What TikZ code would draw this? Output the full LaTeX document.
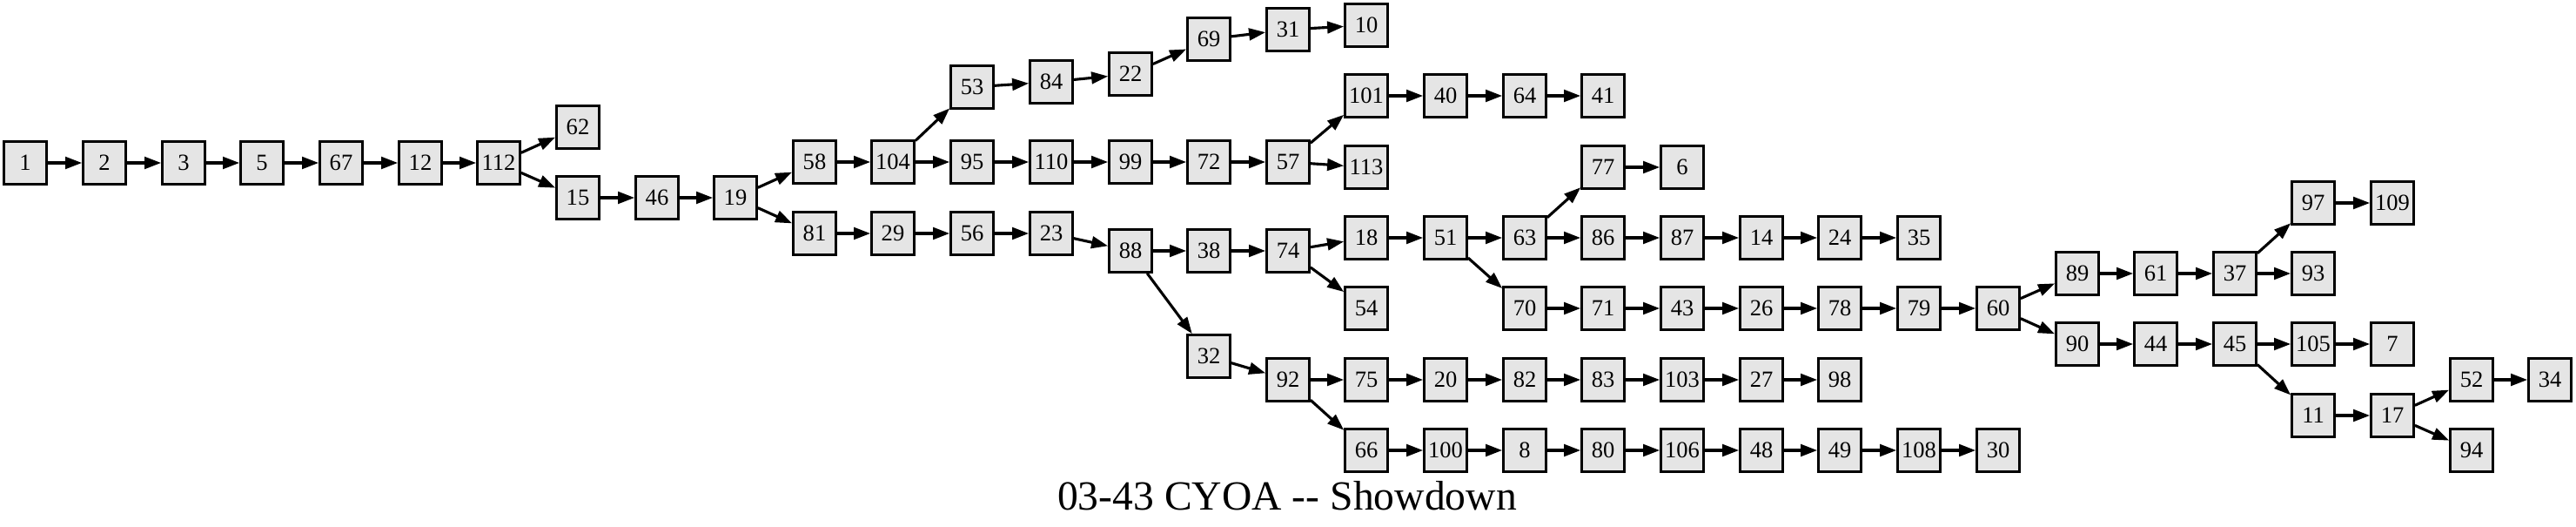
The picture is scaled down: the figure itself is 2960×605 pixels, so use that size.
\documentclass[tikz,border=0pt]{standalone}
\usepackage{fontspec}
\setmainfont{Liberation Serif}
\usetikzlibrary{arrows.meta,graphs}
\definecolor{pagefill}{HTML}{E5E5E5}
\tikzset{
    >={Triangle[length=14pt,width=10pt]},
    page/.style={draw, line width=2pt, fill=pagefill, rectangle,
        minimum size=36pt, inner sep=0pt,
        font=\fontsize{19.5pt}{20pt}\selectfont},
}

\begin{document}
\begin{tikzpicture}[x=0.735pt, y=-0.735pt]
    \useasboundingbox (0,0) rectangle (2960,605);

    % pages, at pixel positions of the layout
    \foreach \n/\x/\y in {
        1/29/187, 2/120/187, 3/211/187, 5/301/187, 67/392/187, 12/483/187, 112/573/187,
        62/664/146, 15/664/227, 46/755/227, 19/845/227, 58/936/186, 81/936/268,
        104/1026/186, 53/1117/100, 84/1208/94, 22/1299/85, 69/1389/45, 31/1480/34, 10/1570/29,
        95/1117/186, 110/1208/186, 99/1299/186, 72/1389/186, 57/1480/186,
        101/1570/110, 40/1661/110, 64/1752/110, 41/1842/110, 113/1570/192,
        29/1026/268, 56/1117/268, 23/1208/268, 88/1299/288, 38/1389/288, 74/1480/288,
        18/1570/273, 51/1661/273, 63/1752/273, 86/1842/273, 87/1933/273,
        14/2024/273, 24/2114/273, 35/2205/273, 77/1842/192, 6/1933/192,
        54/1570/354, 70/1752/354, 71/1842/354, 43/1933/354, 26/2024/354,
        78/2114/354, 79/2205/354, 60/2296/354,
        89/2387/314, 61/2477/314, 37/2568/314, 93/2658/314, 97/2658/233, 109/2749/233,
        90/2387/395, 44/2477/395, 45/2568/395, 105/2658/395, 7/2749/395,
        11/2658/477, 17/2749/477, 52/2840/436, 34/2930/436, 94/2840/517,
        32/1389/409, 92/1480/436, 75/1570/436, 20/1661/436, 82/1752/436,
        83/1842/436, 103/1933/436, 27/2024/436, 98/2114/436,
        66/1570/517, 100/1661/517, 8/1752/517, 80/1842/517, 106/1933/517,
        48/2024/517, 49/2114/517, 108/2205/517, 30/2296/517}
        \node[page] (p\n) at (\x,\y) {\n};

    \graph[use existing nodes, edges={line width=2.3pt}] {
        p1 -> p2 -> p3 -> p5 -> p67 -> p12 -> p112 -> p15 -> p46 -> p19 -> p58 -> p104
            -> p95 -> p110 -> p99 -> p72 -> p57 -> p101 -> p40 -> p64 -> p41;
        p112 -> p62;
        p104 -> p53 -> p84 -> p22 -> p69 -> p31 -> p10;
        p57 -> p113;
        p19 -> p81 -> p29 -> p56 -> p23 -> p88 -> p38 -> p74 -> p18 -> p51 -> p63
            -> p86 -> p87 -> p14 -> p24 -> p35;
        p74 -> p54;
        p63 -> p77 -> p6;
        p51 -> p70 -> p71 -> p43 -> p26 -> p78 -> p79 -> p60 -> p89 -> p61 -> p37
            -> p97 -> p109;
        p37 -> p93;
        p60 -> p90 -> p44 -> p45 -> p105 -> p7;
        p45 -> p11 -> p17 -> p52 -> p34;
        p17 -> p94;
        p88 -> p32 -> p92 -> p75 -> p20 -> p82 -> p83 -> p103 -> p27 -> p98;
        p92 -> p66 -> p100 -> p8 -> p80 -> p106 -> p48 -> p49 -> p108 -> p30;
    };

    \node[anchor=base, font=\fontsize{35pt}{36pt}\selectfont] (title) at (1479,585)
        {03-43 CYOA -{}- Showdown};
\end{tikzpicture}
\end{document}
